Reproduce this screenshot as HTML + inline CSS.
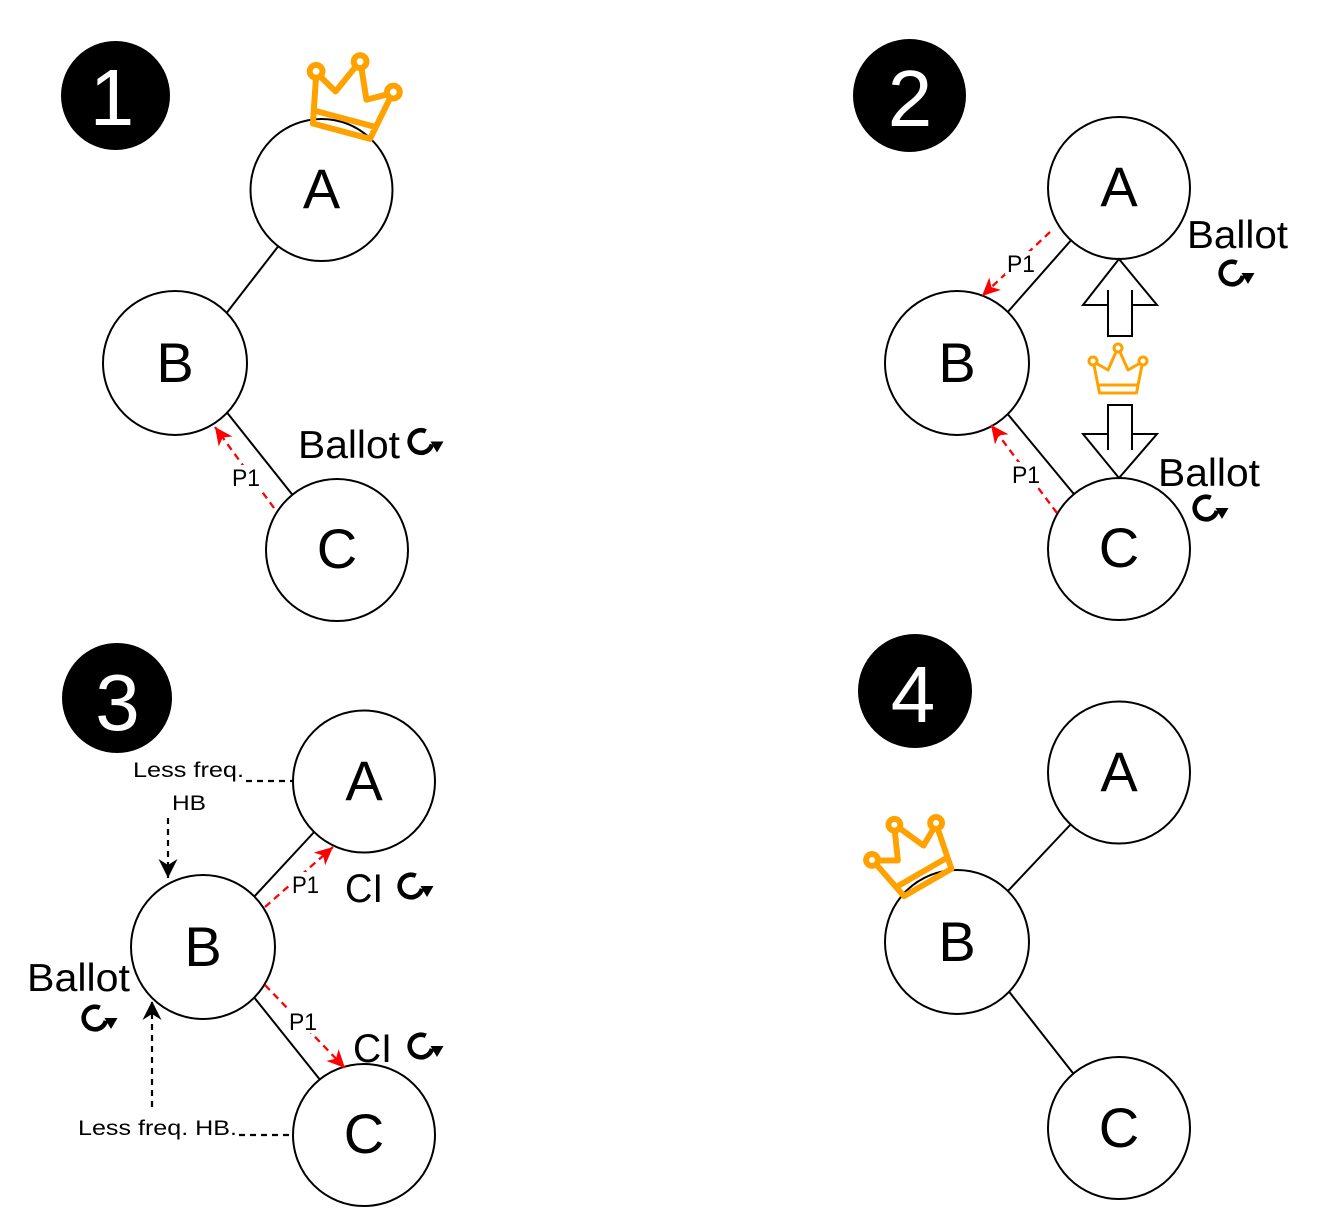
<!DOCTYPE html>
<html>
<head>
<meta charset="utf-8">
<style>
  html, body { margin: 0; padding: 0; background: #fff; }
  svg { display: block; }
  text { font-family: "Liberation Sans", Arial, sans-serif; }
</style>
</head>
<body>
<svg width="1318" height="1228" viewBox="0 0 1318 1228" xmlns="http://www.w3.org/2000/svg">
  <defs>
    <marker id="ar" markerUnits="userSpaceOnUse" viewBox="0 0 18 17" refX="18" refY="8.5" markerWidth="18" markerHeight="17" orient="auto">
      <path d="M0,0 L18,8.5 L0,17 L5,8.5 Z" fill="#ff0000"/>
    </marker>
    <marker id="ab" markerUnits="userSpaceOnUse" viewBox="0 0 19 19" refX="19" refY="9.5" markerWidth="19" markerHeight="19" orient="auto">
      <path d="M0,0 L19,9.5 L0,19 L6,9.5 Z" fill="#000"/>
    </marker>
    <g id="refresh">
      <path d="M4.78,-10.24 A11.3,11.3 0 1 0 10.9,2.9" fill="none" stroke="#000" stroke-width="4.6"/>
      <path d="M9.5,0 L22.5,0 L16,11 Z" fill="#000"/>
    </g>
    <g id="crown" fill="none" stroke="#FFA200" stroke-linejoin="round" stroke-linecap="round">
      <circle cx="-25" cy="-9" r="4"/>
      <circle cx="0" cy="-22" r="4"/>
      <circle cx="25" cy="-9" r="4"/>
      <path d="M-24,-5 L-18.5,23 L18.5,23 L24,-5 M-21.5,-6.5 L-10,0 L-2,-18 M2,-18 L10,0 L21.5,-6.5 M-20,15 L20,15"/>
    </g>
  </defs>

  <!-- ================= PANEL 1 ================= -->
  <circle cx="115.5" cy="95.5" r="54.5" fill="#000"/>
  <text x="112" y="125" font-size="80" fill="#fff" text-anchor="middle">1</text>

  <g stroke="#000" stroke-width="2">
    <line x1="280" y1="244" x2="225" y2="315"/>
    <line x1="225" y1="410" x2="295" y2="498"/>
  </g>
  <g fill="#fff" stroke="#000" stroke-width="2">
    <circle cx="321.5" cy="190" r="71"/>
    <circle cx="175" cy="363" r="72"/>
    <circle cx="337" cy="550" r="71"/>
  </g>
  <g font-size="56" text-anchor="middle" fill="#000">
    <text x="321.5" y="208">A</text>
    <text x="175" y="382">B</text>
    <text x="337" y="568">C</text>
  </g>
  <line x1="274" y1="508" x2="215" y2="427" stroke="#ff0000" stroke-width="2.3" stroke-dasharray="7 5" marker-end="url(#ar)"/>
  <rect x="230" y="465" width="32" height="24" fill="#fff"/>
  <text x="232" y="486" font-size="24" textLength="28" lengthAdjust="spacingAndGlyphs">P1</text>
  <text x="298" y="458" font-size="39" textLength="102" lengthAdjust="spacingAndGlyphs">Ballot</text>
  <use href="#refresh" transform="translate(421,441.5)"/>
  <use href="#crown" stroke-width="3.75" transform="translate(351,95.6) rotate(15) scale(1.6)"/>

  <!-- ================= PANEL 2 ================= -->
  <circle cx="909.5" cy="95.5" r="56.5" fill="#000"/>
  <text x="910" y="126" font-size="80" fill="#fff" text-anchor="middle">2</text>

  <g stroke="#000" stroke-width="2">
    <line x1="1073" y1="238" x2="1006" y2="314"/>
    <line x1="1006" y1="412" x2="1078" y2="499"/>
  </g>
  <g fill="#fff" stroke="#000" stroke-width="2">
    <circle cx="1119" cy="188" r="71"/>
    <circle cx="957" cy="363" r="72"/>
    <circle cx="1119" cy="549" r="71"/>
  </g>
  <g font-size="56" text-anchor="middle" fill="#000">
    <text x="1119" y="206">A</text>
    <text x="957" y="382">B</text>
    <text x="1119" y="567">C</text>
  </g>
  <line x1="1050" y1="232" x2="982" y2="296" stroke="#ff0000" stroke-width="2.3" stroke-dasharray="7 5" marker-end="url(#ar)"/>
  <line x1="1057" y1="513" x2="991" y2="425" stroke="#ff0000" stroke-width="2.3" stroke-dasharray="7 5" marker-end="url(#ar)"/>
  <rect x="1005" y="251" width="32" height="24" fill="#fff"/>
  <text x="1007" y="272" font-size="24" textLength="28" lengthAdjust="spacingAndGlyphs">P1</text>
  <rect x="1010" y="462" width="32" height="24" fill="#fff"/>
  <text x="1012" y="483" font-size="24" textLength="28" lengthAdjust="spacingAndGlyphs">P1</text>

  <path d="M1119,259 L1157,305 L1132,305 L1132,336 L1108,336 L1108,305 L1083,305 Z M1108,305 L1108,290 M1132,305 L1132,290" fill="#fff" stroke="#000" stroke-width="2"/>
  <path d="M1119,478 L1157,434 L1132,434 L1132,405 L1108,405 L1108,434 L1083,434 Z M1108,434 L1108,450 M1132,434 L1132,450" fill="#fff" stroke="#000" stroke-width="2"/>
  <use href="#crown" stroke-width="3" transform="translate(1118,370)"/>

  <text x="1187" y="248" font-size="39" textLength="101" lengthAdjust="spacingAndGlyphs">Ballot</text>
  <use href="#refresh" transform="translate(1232,273)"/>
  <text x="1158" y="486" font-size="39" textLength="102" lengthAdjust="spacingAndGlyphs">Ballot</text>
  <use href="#refresh" transform="translate(1206,508)"/>

  <!-- ================= PANEL 3 ================= -->
  <circle cx="117" cy="698" r="55" fill="#000"/>
  <text x="117.5" y="730" font-size="80" fill="#fff" text-anchor="middle">3</text>

  <g stroke="#000" stroke-width="2">
    <line x1="316" y1="830" x2="252" y2="899"/>
    <line x1="253" y1="996" x2="321" y2="1081"/>
  </g>
  <g fill="#fff" stroke="#000" stroke-width="2">
    <circle cx="364" cy="781.5" r="71"/>
    <circle cx="203" cy="947" r="72"/>
    <circle cx="364" cy="1135" r="71"/>
  </g>
  <g font-size="56" text-anchor="middle" fill="#000">
    <text x="364" y="800">A</text>
    <text x="203" y="966">B</text>
    <text x="364" y="1153">C</text>
  </g>
  <line x1="265" y1="907" x2="333" y2="847" stroke="#ff0000" stroke-width="2.3" stroke-dasharray="7 5" marker-end="url(#ar)"/>
  <line x1="265" y1="985" x2="345" y2="1068" stroke="#ff0000" stroke-width="2.3" stroke-dasharray="7 5" marker-end="url(#ar)"/>
  <rect x="290" y="872" width="31" height="24" fill="#fff"/>
  <text x="292" y="893" font-size="24" textLength="27" lengthAdjust="spacingAndGlyphs">P1</text>
  <rect x="287" y="1009" width="32" height="24" fill="#fff"/>
  <text x="289" y="1030" font-size="24" textLength="28" lengthAdjust="spacingAndGlyphs">P1</text>

  <text x="345" y="902" font-size="40" textLength="38" lengthAdjust="spacingAndGlyphs">CI</text>
  <use href="#refresh" transform="translate(411,886)"/>
  <text x="353" y="1062" font-size="40" textLength="39" lengthAdjust="spacingAndGlyphs">CI</text>
  <use href="#refresh" transform="translate(421,1046)"/>
  <text x="27" y="991" font-size="39" textLength="103" lengthAdjust="spacingAndGlyphs">Ballot</text>
  <use href="#refresh" transform="translate(95,1018)"/>

  <g stroke="#000" stroke-width="2.2" stroke-dasharray="6 5">
    <line x1="246" y1="781" x2="293" y2="781"/>
    <line x1="239" y1="1135" x2="293" y2="1135"/>
  </g>
  <line x1="168" y1="818" x2="168" y2="878" stroke="#000" stroke-width="2.2" stroke-dasharray="6 5" marker-end="url(#ab)"/>
  <line x1="152" y1="1107" x2="152" y2="1001" stroke="#000" stroke-width="2.2" stroke-dasharray="6 5" marker-end="url(#ab)"/>
  <text x="133" y="777" font-size="21" textLength="111" lengthAdjust="spacingAndGlyphs">Less freq.</text>
  <text x="172" y="810" font-size="21" textLength="34" lengthAdjust="spacingAndGlyphs">HB</text>
  <text x="78" y="1135" font-size="21" textLength="159" lengthAdjust="spacingAndGlyphs">Less freq. HB.</text>

  <!-- ================= PANEL 4 ================= -->
  <circle cx="915" cy="691" r="57" fill="#000"/>
  <text x="913" y="722" font-size="80" fill="#fff" text-anchor="middle">4</text>

  <g stroke="#000" stroke-width="2">
    <line x1="1071" y1="824" x2="1007" y2="892"/>
    <line x1="1007" y1="989" x2="1076" y2="1077"/>
  </g>
  <g fill="#fff" stroke="#000" stroke-width="2">
    <circle cx="1119" cy="772.5" r="71"/>
    <circle cx="957" cy="942" r="72"/>
    <circle cx="1119" cy="1128" r="71"/>
  </g>
  <g font-size="56" text-anchor="middle" fill="#000">
    <text x="1119" y="791">A</text>
    <text x="957" y="961">B</text>
    <text x="1119" y="1147">C</text>
  </g>
  <use href="#crown" stroke-width="4" transform="translate(910.7,853) rotate(-30) scale(1.48)"/>
</svg>
</body>
</html>
